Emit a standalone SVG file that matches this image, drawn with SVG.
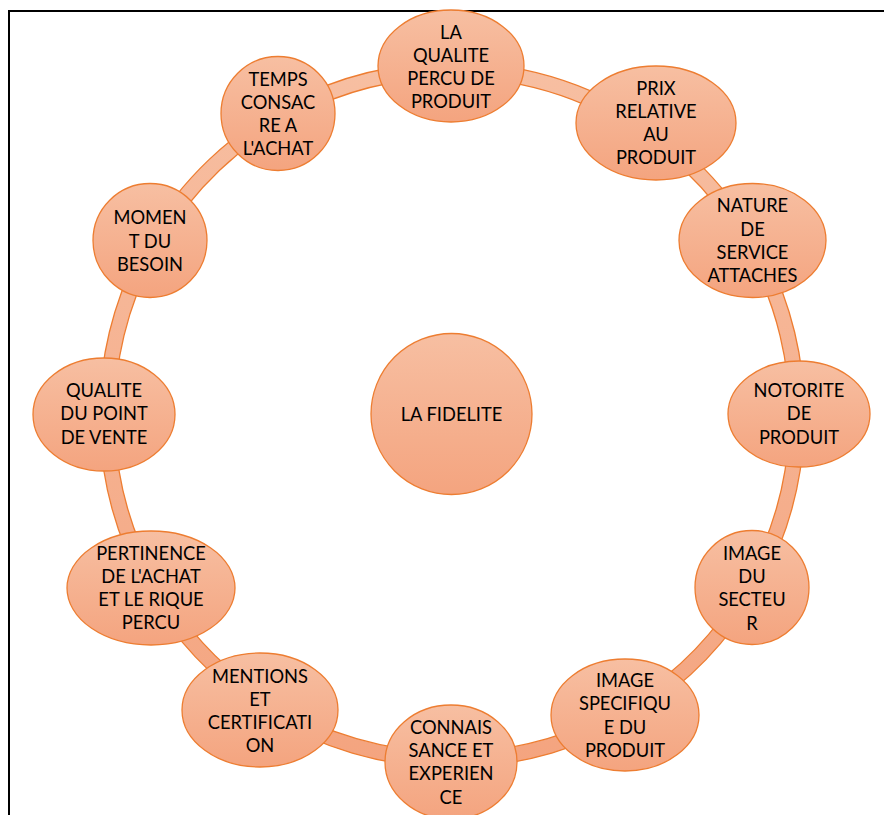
<svg xmlns="http://www.w3.org/2000/svg" width="884" height="815" viewBox="0 0 884 815">
  <defs>
    <linearGradient id="g" x1="0" y1="0" x2="0" y2="1">
      <stop offset="0" stop-color="#F7BFA2"/>
      <stop offset="1" stop-color="#F4A47F"/>
    </linearGradient>
    <style>
      .shape { fill: url(#g); stroke: #ED7D31; stroke-width: 1.3; }
      .ring { fill: url(#g); fill-rule: evenodd; stroke: #ED7D31; stroke-width: 1.3; }
      text { font-family: Lato, "Liberation Sans", sans-serif; font-size: 18.3px; fill: #000; text-anchor: middle; }
      .frame { stroke: #000; stroke-width: 2; fill: none; }
    </style>
  </defs>
  <rect width="884" height="815" fill="#fff"/>
  <path class="frame" d="M9,815 V11 H884"/>

  <g id="connectors">
    <path class="ring" d="M452,62.5 A352.5,352.5 0 1 1 451.99,62.5 Z M452,77.5 A337.5,337.5 0 1 0 452.01,77.5 Z"/>
  </g>

  <g id="center">
    <circle class="shape" cx="451.5" cy="414" r="80.5"/>
    <text x="451.5" y="421">LA FIDELITE</text>
  </g>

  <g id="n1">
    <ellipse class="shape" cx="451" cy="66" rx="73" ry="56"/>
    <text x="451" y="38.5">LA</text>
    <text x="451" y="61.8">QUALITE</text>
    <text x="451" y="85.1">PERCU DE</text>
    <text x="451" y="108.4">PRODUIT</text>
  </g>
  <g id="n2">
    <ellipse class="shape" cx="656" cy="123" rx="80" ry="57"/>
    <text x="656" y="94.5">PRIX</text>
    <text x="656" y="117.8">RELATIVE</text>
    <text x="656" y="141.1">AU</text>
    <text x="656" y="164.4">PRODUIT</text>
  </g>
  <g id="n3">
    <ellipse class="shape" cx="752.5" cy="240.5" rx="73.5" ry="57"/>
    <text x="752.5" y="212.2">NATURE</text>
    <text x="752.5" y="235.5">DE</text>
    <text x="752.5" y="258.8">SERVICE</text>
    <text x="752.5" y="282.1">ATTACHES</text>
  </g>
  <g id="n4">
    <ellipse class="shape" cx="799" cy="414" rx="71" ry="53"/>
    <text x="799" y="397">NOTORITE</text>
    <text x="799" y="420.3">DE</text>
    <text x="799" y="443.6">PRODUIT</text>
  </g>
  <g id="n5">
    <circle class="shape" cx="752" cy="587.5" r="57"/>
    <text x="752" y="559.7">IMAGE</text>
    <text x="752" y="583">DU</text>
    <text x="752" y="606.3">SECTEU</text>
    <text x="752" y="629.6">R</text>
  </g>
  <g id="n6">
    <ellipse class="shape" cx="625" cy="715" rx="74" ry="56"/>
    <text x="625" y="687">IMAGE</text>
    <text x="625" y="710.3">SPECIFIQU</text>
    <text x="625" y="733.6">E DU</text>
    <text x="625" y="756.9">PRODUIT</text>
  </g>
  <g id="n7">
    <ellipse class="shape" cx="451" cy="762" rx="66" ry="57"/>
    <text x="451" y="733.7">CONNAIS</text>
    <text x="451" y="757">SANCE ET</text>
    <text x="451" y="780.3">EXPERIEN</text>
    <text x="451" y="803.6">CE</text>
  </g>
  <g id="n8">
    <ellipse class="shape" cx="260" cy="710" rx="78" ry="57"/>
    <text x="260" y="682.5">MENTIONS</text>
    <text x="260" y="705.8">ET</text>
    <text x="260" y="729.1">CERTIFICATI</text>
    <text x="260" y="752.4">ON</text>
  </g>
  <g id="n9">
    <ellipse class="shape" cx="151" cy="588" rx="84" ry="57"/>
    <text x="151" y="559.5">PERTINENCE</text>
    <text x="151" y="582.8">DE L'ACHAT</text>
    <text x="151" y="606.1">ET LE RIQUE</text>
    <text x="151" y="629.4">PERCU</text>
  </g>
  <g id="n10">
    <ellipse class="shape" cx="104" cy="414.5" rx="71" ry="56.5"/>
    <text x="104" y="397">QUALITE</text>
    <text x="104" y="420.3">DU POINT</text>
    <text x="104" y="443.6">DE VENTE</text>
  </g>
  <g id="n11">
    <circle class="shape" cx="150" cy="240.5" r="57"/>
    <text x="150" y="224.2">MOMEN</text>
    <text x="150" y="247.5">T DU</text>
    <text x="150" y="270.8">BESOIN</text>
  </g>
  <g id="n12">
    <circle class="shape" cx="278" cy="113.5" r="57"/>
    <text x="278" y="85.5">TEMPS</text>
    <text x="278" y="108.8">CONSAC</text>
    <text x="278" y="132.1">RE A</text>
    <text x="278" y="155.4">L'ACHAT</text>
  </g>
</svg>
